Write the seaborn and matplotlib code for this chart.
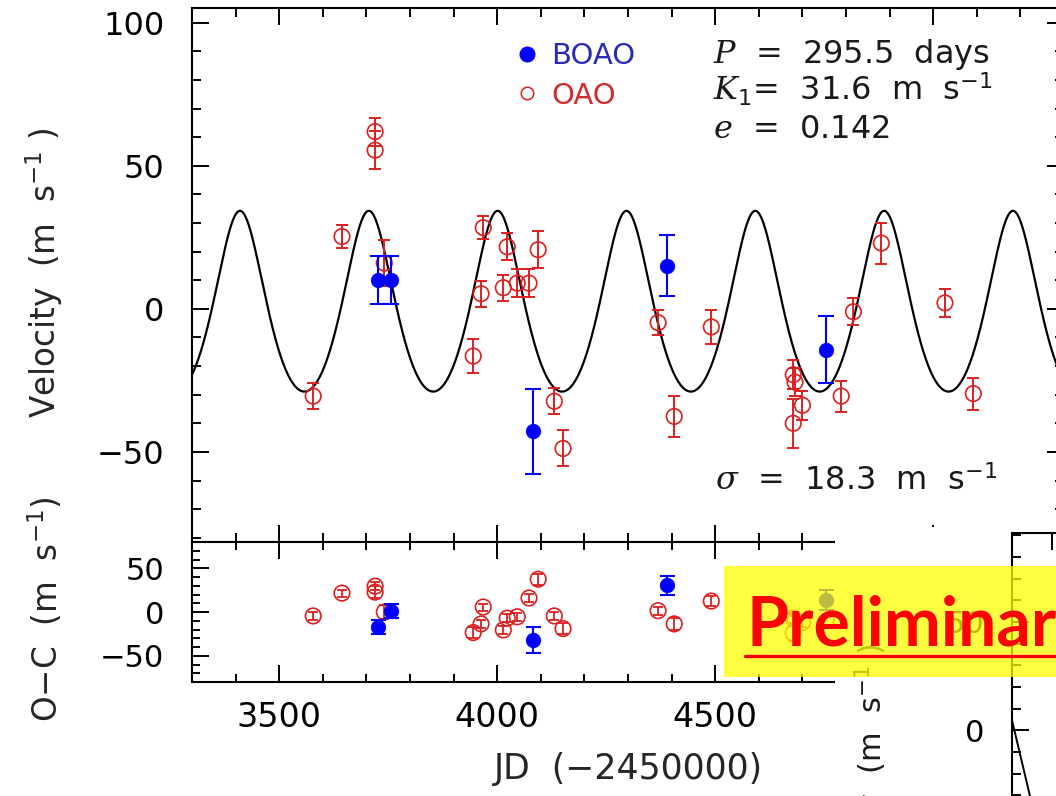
import numpy as np
import pandas as pd
import matplotlib
matplotlib.use("Agg")
import matplotlib.pyplot as plt
import seaborn as sns
from matplotlib.lines import Line2D
from matplotlib.patches import Rectangle
from matplotlib.ticker import MultipleLocator

# ---------------- data ----------------
oao_jd = [3578, 3644, 3720, 3720, 3741, 3945, 3963, 3968, 4014, 4023, 4046, 4073, 4094,
          4131, 4151, 4369, 4406, 4491, 4679, 4679, 4683, 4700, 4789, 4817, 4881, 5027, 5092]
oao_rv = [-30.5, 25.3, 62.0, 55.5, 16.0, -16.5, 5.3, 28.4, 7.4, 21.7, 9.0, 9.0, 20.7,
          -32.3, -48.8, -4.8, -37.6, -6.3, -23.0, -40.0, -25.6, -33.7, -30.5, -1.0, 23.0, 2.1, -29.6]
oao_err = [4.5, 4.0, 4.9, 6.6, 8.0, 6.0, 4.5, 4.0, 4.5, 4.7, 4.9, 4.9, 6.5,
           4.5, 6.3, 4.5, 7.3, 5.8, 5.0, 8.6, 5.0, 5.0, 5.4, 4.7, 7.2, 5.0, 5.6]
oao_oc = [-4.5, 21.6, 29.5, 22.7, 0.0, -23.5, -13.6, 5.7, -20.5, -7.0, -5.5, 16.0, 37.5,
          -4.5, -19.0, 1.5, -13.6, 12.5, -7.0, -24.0, -9.0, -12.0, -11.5, 0.5, -11.0, 30.6, -8.6]

boao_jd = [3727, 3757, 4081, 4389, 4755]
boao_rv = [10.2, 10.2, -42.8, 15.1, -14.2]
boao_err = [8.4, 8.4, 14.9, 10.7, 11.6]
boao_oc = [-17.0, 1.0, -32.0, 30.7, 13.6]

# orbital solution shown on the chart
period = 295.5
k1 = 31.6
ecc = 0.142
omega_deg = 0.0
t_peri = 3705.5
gamma = -1.8
sigma_rms = 18.3

# overlaid second chart (partly visible)
overlay_phase = [0.0, 0.045, 0.09]
overlay_vel = [4.6, -30.4, -65.0]

x_major, x_minor = 500, 100

# ---------------- model curve ----------------
t_grid = np.linspace(3300, 5300, 3000)
M = 2 * np.pi * (t_grid - t_peri) / period
E = M.copy()
for _ in range(60):
    E = E - (E - ecc * np.sin(E) - M) / (1 - ecc * np.cos(E))
nu = 2 * np.arctan2(np.sqrt(1 + ecc) * np.sin(E / 2), np.sqrt(1 - ecc) * np.cos(E / 2))
w = np.radians(omega_deg)
v_model = gamma + k1 * (np.cos(nu + w) + ecc * np.cos(w))
model_df = pd.DataFrame({"jd": t_grid, "v": v_model})

# ---------------- style ----------------
sns.set_theme(style="ticks")
plt.rcParams["font.family"] = ["DejaVu Sans"]
plt.rcParams["mathtext.fontset"] = "custom"
plt.rcParams["mathtext.rm"] = "DejaVu Sans"
plt.rcParams["mathtext.it"] = "DejaVu Serif:italic"
plt.rcParams["mathtext.bf"] = "DejaVu Sans:bold"
plt.rcParams["axes.edgecolor"] = "black"
plt.rcParams["axes.linewidth"] = 1.5
plt.rcParams["xtick.color"] = "black"
plt.rcParams["ytick.color"] = "black"
plt.rcParams["text.color"] = "#1a1a1a"

RED = "#dd1f1f"
BLUE = "#0000ff"
TXT_BLUE = "#2a2ab4"
TXT_RED = "#d42a2a"

W, H = 1056, 796
fig = plt.figure(figsize=(W / 100, H / 100), dpi=100, facecolor="white")


def box(l, t, r, b):
    return [l / W, 1 - b / H, (r - l) / W, (b - t) / H]


ax1 = fig.add_axes(box(192, 8, 1064, 542))
ax2 = fig.add_axes(box(192, 542, 1064, 682))
for a in (ax1, ax2):
    a.set_zorder(1)

# ---- top panel ----
sns.lineplot(data=model_df, x="jd", y="v", ax=ax1, color="black", linewidth=1.6,
             estimator=None, sort=False, zorder=1)
ax1.errorbar(oao_jd, oao_rv, yerr=oao_err, fmt="none", ecolor=RED, elinewidth=1.4,
             capsize=4.3, capthick=1.4, zorder=2)
sns.scatterplot(x=oao_jd, y=oao_rv, ax=ax1, marker="o", s=125, legend=False, zorder=3)
ax1.collections[-1].set_facecolor("none")
ax1.collections[-1].set_edgecolor(RED)
ax1.collections[-1].set_linewidth(1.2)
ax1.errorbar(boao_jd, boao_rv, yerr=boao_err, fmt="none", ecolor=BLUE, elinewidth=1.5,
             capsize=6.0, capthick=1.5, zorder=4)
sns.scatterplot(x=boao_jd, y=boao_rv, ax=ax1, marker="o", s=110, color=BLUE,
                edgecolor=BLUE, linewidth=0.5, legend=False, zorder=5)

ax1.set_xlim(3300, 5300)
ax1.set_ylim(-81.5, 105.2)
ax1.xaxis.set_major_locator(MultipleLocator(x_major))
ax1.xaxis.set_minor_locator(MultipleLocator(x_minor))
ax1.yaxis.set_major_locator(MultipleLocator(50))
ax1.yaxis.set_minor_locator(MultipleLocator(10))
ax1.tick_params(which="both", direction="in", top=True, right=True, bottom=True, left=True,
                labelbottom=False, width=1.4)
ax1.tick_params(which="major", length=12.5, labelsize=23, pad=20)
ax1.tick_params(which="minor", length=6.5)
ax1.set_xlabel("")
ax1.set_ylabel("Velocity  (m  s$^{-1}$ )", fontsize=23.5)
ax1.yaxis.set_label_coords(-0.146, 0.505)

handles = [Line2D([], [], ls="", marker="o", ms=10.5, color=BLUE, mec=BLUE),
           Line2D([], [], ls="", marker="o", ms=9.0, mfc="none", mec=RED, mew=1.1)]
ax1.legend(handles, ["BOAO", "OAO"], loc="upper left", frameon=False, fontsize=21,
           handlelength=1.0, handletextpad=0.35, labelspacing=0.4, borderpad=0,
           borderaxespad=0, labelcolor=[TXT_BLUE, TXT_RED],
           bbox_to_anchor=(512 / W, 1 - 42 / H), bbox_transform=fig.transFigure)

fig.text(713 / W, 1 - 63 / H, "$P$  =  295.5  days", fontsize=23, va="baseline", ha="left")
fig.text(713 / W, 1 - 101 / H, "$K_1$=  31.6  m  s$^{-1}$", fontsize=23, va="baseline", ha="left")
fig.text(713 / W, 1 - 138 / H, "$e$  =  0.142", fontsize=23, va="baseline", ha="left")
fig.text(715 / W, 1 - 490 / H, f"$\\sigma$  =  {sigma_rms}  m  s$^{{-1}}$", fontsize=23,
         va="baseline", ha="left")

# ---- bottom panel ----
ax2.errorbar(oao_jd, oao_oc, yerr=oao_err, fmt="none", ecolor=RED, elinewidth=1.3,
             capsize=3.6, capthick=1.3, zorder=2)
sns.scatterplot(x=oao_jd, y=oao_oc, ax=ax2, marker="o", s=125, legend=False, zorder=3)
ax2.collections[-1].set_facecolor("none")
ax2.collections[-1].set_edgecolor(RED)
ax2.collections[-1].set_linewidth(1.2)
ax2.errorbar(boao_jd, boao_oc, yerr=boao_err, fmt="none", ecolor=BLUE, elinewidth=1.5,
             capsize=5.4, capthick=1.5, zorder=4)
sns.scatterplot(x=boao_jd, y=boao_oc, ax=ax2, marker="o", s=110, color=BLUE,
                edgecolor=BLUE, linewidth=0.5, legend=False, zorder=5)
ax2.set_xlim(3300, 5300)
ax2.set_ylim(-80, 80)
ax2.xaxis.set_major_locator(MultipleLocator(x_major))
ax2.xaxis.set_minor_locator(MultipleLocator(x_minor))
ax2.yaxis.set_major_locator(MultipleLocator(50))
ax2.yaxis.set_minor_locator(MultipleLocator(10))
ax2.tick_params(which="both", direction="in", top=True, right=True, bottom=True, left=True,
                width=1.4)
ax2.tick_params(which="major", length=12.5, labelsize=22, pad=20)
ax2.tick_params(axis="x", which="major", labelsize=24, pad=14)
ax2.tick_params(which="minor", length=6)
ax2.set_xlabel("JD  (−2450000)", fontsize=25)
ax2.xaxis.set_label_coords(0.5, -0.5)
ax2.set_ylabel("O−C  (m  s$^{-1}$)", fontsize=23.5)
ax2.yaxis.set_label_coords(-0.146, 0.52)

# ---- overlaid second chart (covering the lower right) ----
fig.patches.append(Rectangle((835 / W, 0), (W - 835) / W, (H - 527) / H,
                             transform=fig.transFigure, facecolor="white",
                             edgecolor="none", zorder=2))
ax3 = fig.add_axes(box(1012, 533, 1412, 947))
ax3.set_zorder(3)
ax3.set_facecolor("white")
sns.lineplot(x=overlay_phase, y=overlay_vel, ax=ax3, color="black", linewidth=1.4,
             estimator=None, sort=False)
ax3.set_xlim(0, 1)
ax3.set_ylim(-100, 91)
ax3.xaxis.set_major_locator(MultipleLocator(0.1))
ax3.yaxis.set_major_locator(MultipleLocator(50))
ax3.yaxis.set_minor_locator(MultipleLocator(10))
ax3.tick_params(which="both", direction="in", top=True, right=True, bottom=True, left=True,
                labelbottom=False, width=1.4)
ax3.tick_params(which="major", length=12, labelsize=22, pad=20)
ax3.tick_params(which="minor", length=6.5)
fig.text(872 / W, 1 - 643 / H, "Velocity  (m  s$^{-1}$ )", fontsize=22, rotation=90,
         va="top", ha="center", zorder=3.5)

# ---- "Preliminary" banner ----
fig.patches.append(Rectangle((724 / W, 1 - 677 / H), (W - 724) / W, (677 - 566) / H,
                             transform=fig.transFigure, facecolor="#ffff00", alpha=0.74,
                             edgecolor="none", zorder=4))
fig.text(747 / W, 1 - 646 / H, "Preliminary", fontsize=49, fontweight="bold",
         family=["Lato", "DejaVu Sans"], color="#ff0000", va="baseline", ha="left", zorder=5)
fig.lines.append(Line2D([745 / W, 1.1], [1 - 656 / H, 1 - 656 / H], transform=fig.transFigure,
                        color="#ff0000", linewidth=2.4, zorder=5))

fig.savefig("out.png", dpi=100, facecolor="white")
